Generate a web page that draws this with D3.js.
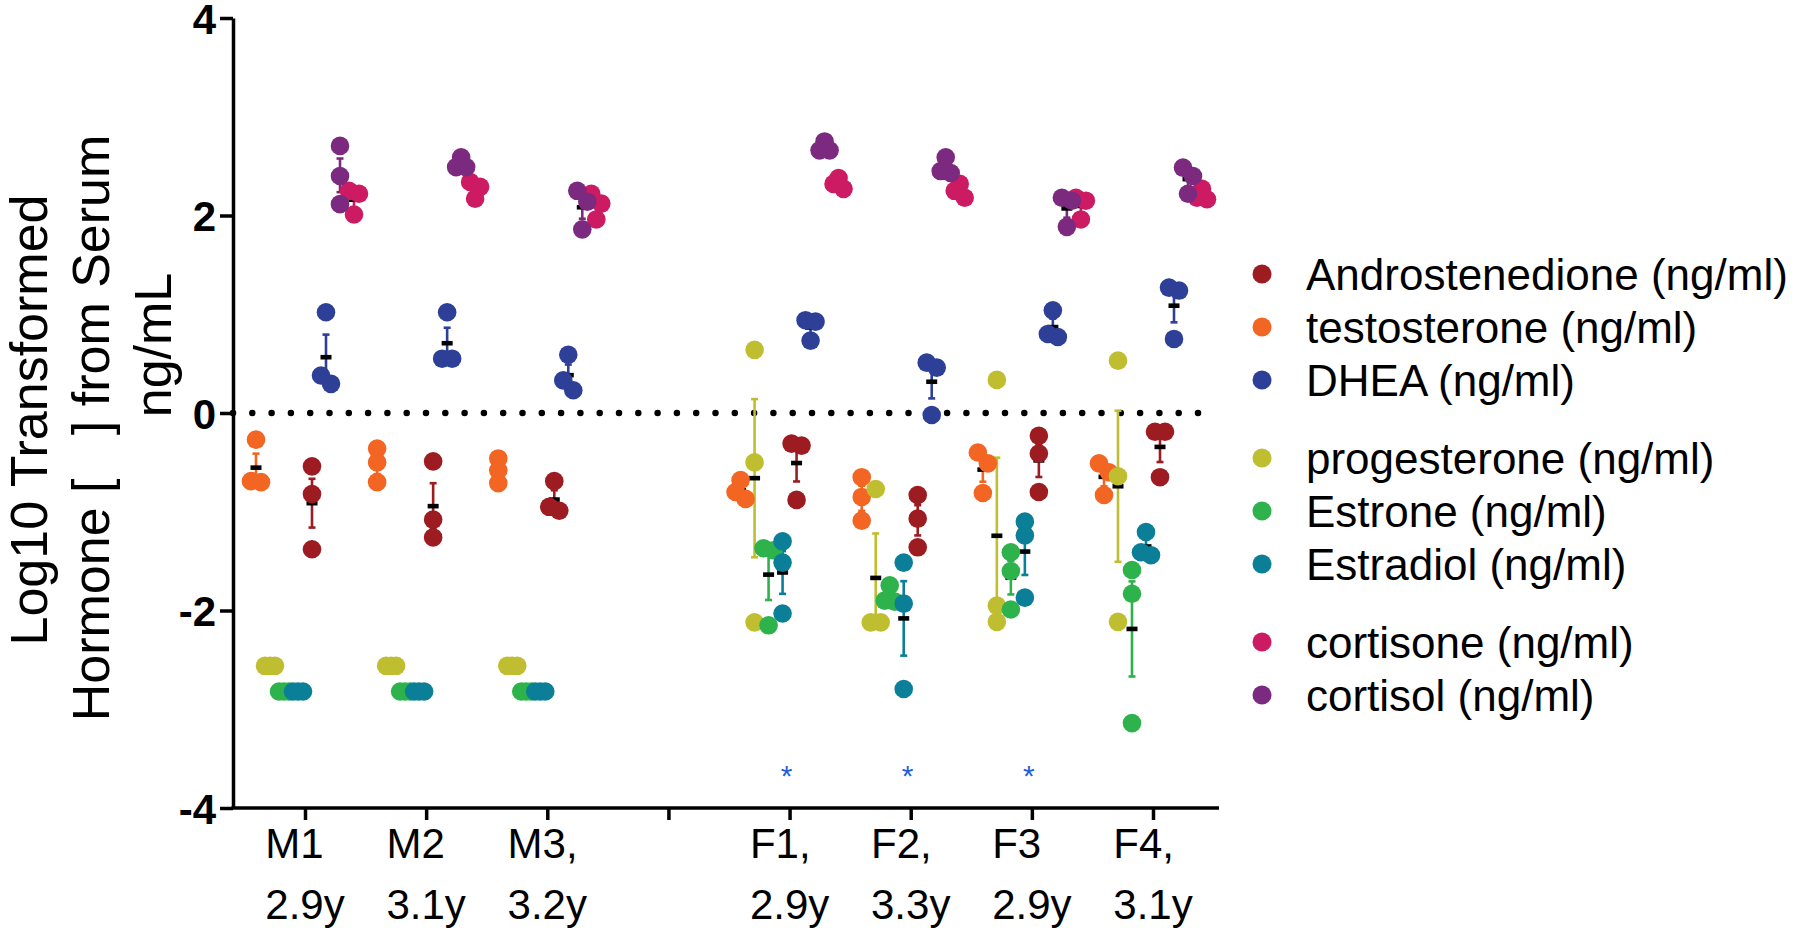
<!DOCTYPE html>
<html><head><meta charset="utf-8">
<script src="https://cdn.jsdelivr.net/npm/d3@7"></script>
<style>
body{margin:0;background:#fff}
svg{display:block}
text{font-family:Arial,"Liberation Sans",Helvetica,sans-serif}
</style>
</head><body>
<svg id="chart" width="1800" height="930"></svg>
<script>
// ---------- DATA ----------
const groupKeys = ["M1","M2","M3","gap","F1","F2","F3","F4"];
const groupLabels = [["M1","2.9y"],["M2","3.1y"],["M3,","3.2y"],[],["F1,","2.9y"],["F2,","3.3y"],["F3","2.9y"],["F4,","3.1y"]];
const subjects = ["M1","M2","M3","F1","F2","F3","F4"];
const yTicks = [4,2,0,-2,-4];
const significant = ["F1","F2","F3"];
const yTitle = ["Log10 Transformed","Hormone [\u00A0\u00A0\u00A0] from Serum","ng/mL"];

// x-order of columns inside each subject group
const hormoneColumns = ["testosterone","progesterone","estrone","estradiol","androstenedione","dhea","cortisol","cortisone"];
// legend / drawing order
const legendGroups = [["androstenedione","testosterone","dhea"],["progesterone","estrone","estradiol"],["cortisone","cortisol"]];
const hormoneNames = {
  androstenedione:"Androstenedione (ng/ml)", testosterone:"testosterone (ng/ml)", dhea:"DHEA (ng/ml)",
  progesterone:"progesterone (ng/ml)", estrone:"Estrone (ng/ml)", estradiol:"Estradiol (ng/ml)",
  cortisone:"cortisone (ng/ml)", cortisol:"cortisol (ng/ml)"
};
const hormoneColors = {
  androstenedione:"#9c1c22", testosterone:"#f26522", dhea:"#2e3f98",
  progesterone:"#bfbe30", estrone:"#2eb24b", estradiol:"#0b7f97",
  cortisone:"#cc1b63", cortisol:"#7b2a7f"
};

// log10 values, per subject (M1,M2,M3,F1,F2,F3,F4), three replicates each
const androstenedione = [[-0.54,-0.82,-1.38],[-0.49,-1.08,-1.26],[-0.69,-0.95,-0.99],[-0.31,-0.33,-0.88],[-0.83,-1.07,-1.36],[-0.23,-0.41,-0.80],[-0.19,-0.19,-0.65]];
const testosterone = [[-0.27,-0.69,-0.70],[-0.36,-0.50,-0.70],[-0.46,-0.58,-0.71],[-0.68,-0.80,-0.87],[-0.65,-0.85,-1.09],[-0.40,-0.51,-0.81],[-0.51,-0.60,-0.83]];
const dhea = [[1.02,0.38,0.295],[1.02,0.55,0.55],[0.59,0.33,0.23],[0.94,0.925,0.733],[0.51,0.46,-0.02],[1.04,0.80,0.77],[1.27,1.24,0.75]];
const progesterone = [[-2.56,-2.56,-2.56],[-2.56,-2.56,-2.56],[-2.56,-2.56,-2.56],[0.64,-0.50,-2.12],[-0.77,-2.12,-2.12],[0.335,-1.95,-2.115],[0.53,-0.64,-2.115]];
const estrone = [[-2.82,-2.82,-2.82],[-2.82,-2.82,-2.82],[-2.82,-2.82,-2.82],[-1.37,-1.39,-2.15],[-1.745,-1.90,-1.91],[-1.41,-1.60,-1.99],[-1.59,-1.83,-3.14]];
const estradiol = [[-2.82,-2.82,-2.82],[-2.82,-2.82,-2.82],[-2.82,-2.82,-2.82],[-1.30,-1.515,-2.03],[-1.515,-1.93,-2.795],[-1.10,-1.24,-1.87],[-1.205,-1.41,-1.44]];
const cortisone = [[2.25,2.22,2.01],[2.34,2.29,2.17],[2.22,2.12,1.96],[2.38,2.32,2.27],[2.32,2.25,2.18],[2.18,2.15,1.96],[2.27,2.18,2.165]];
const cortisol = [[2.705,2.40,2.115],[2.59,2.49,2.49],[2.25,2.14,1.86],[2.75,2.66,2.66],[2.59,2.45,2.43],[2.18,2.15,1.885],[2.485,2.40,2.22]];

const hormoneData = {androstenedione, testosterone, dhea, progesterone, estrone, estradiol, cortisone, cortisol};

// ---------- LAYOUT ----------
const FONT = 'Arial, "Liberation Sans", Helvetica, sans-serif';
const svg = d3.select("#chart");
const y = d3.scaleLinear().domain([-4,4]).range([808,18]);
const x = d3.scalePoint().domain(groupKeys).range([305,1153]);
const sub = d3.scaleBand().domain(hormoneColumns).range([-56,56]);
const axisLeftX = 233, axisRightX = 1219;
const R = 9.3;

// zero dotted line
svg.append("line")
  .attr("x1",axisLeftX).attr("x2",1199)
  .attr("y1",y(0)).attr("y2",y(0))
  .attr("stroke","#000").attr("stroke-width",6.5)
  .attr("stroke-linecap","round").attr("stroke-dasharray","0 19.3");

// y axis
const gy = svg.append("g").attr("transform",`translate(${axisLeftX},0)`)
  .call(d3.axisLeft(y).tickValues(yTicks).tickSize(13).tickSizeOuter(0).tickFormat(d=>String(d)));
gy.attr("font-family",FONT).attr("font-size",42);
gy.select(".domain").attr("stroke","#000").attr("stroke-width",3.5);
gy.selectAll(".tick line").attr("stroke","#000").attr("stroke-width",3.5);
gy.selectAll(".tick text").attr("fill","#000").attr("font-weight","bold").attr("x",-17).attr("dy","0.36em");

// x axis
const gx = svg.append("g").attr("transform",`translate(0,${y(-4)})`)
  .call(d3.axisBottom(x).tickSize(12).tickSizeOuter(0).tickFormat(""));
gx.select(".domain").remove();
gx.selectAll(".tick line").attr("stroke","#000").attr("stroke-width",3.5);
gx.append("line").attr("x1",axisLeftX-1.5).attr("x2",axisRightX).attr("y1",0).attr("y2",0)
  .attr("stroke","#000").attr("stroke-width",3.5);

// x tick labels (two lines, left aligned, block centred on tick)
groupKeys.forEach((k,i)=>{
  const lines = groupLabels[i];
  if(!lines.length) return;
  const g = svg.append("g");
  const texts = lines.map((t,j)=> g.append("text").text(t)
      .attr("font-size",42).attr("font-family",FONT).attr("fill","#000")
      .attr("y", 858 + j*61));
  const w = d3.max(texts, t=>t.node().getComputedTextLength());
  texts.forEach(t=>t.attr("x", x(k) - w/2));
});

// y title (three rotated lines)
const titleCenters = [420, 428, 345];
yTitle.forEach((t,j)=>{
  svg.append("text").text(t)
    .attr("transform",`translate(${47 + j*62},${titleCenters[j]}) rotate(-90)`)
    .attr("text-anchor","middle").attr("font-size",52).attr("font-family",FONT).attr("fill","#000");
});

// beeswarm-like horizontal offsets
const pxPerUnit = y(0)-y(1);
function swarm(vals){
  const idx = vals.map((v,i)=>i).sort((a,b)=>vals[b]-vals[a]);
  const clusters = [];
  idx.forEach((id,k)=>{
    if(k>0 && (vals[idx[k-1]]-vals[id])*pxPerUnit < 11) clusters[clusters.length-1].push(id);
    else clusters.push([id]);
  });
  const off = new Array(vals.length).fill(0);
  const patterns = {1:[0],2:[-5,5],3:[0,-5,5]};
  clusters.forEach(c=>{ const p = patterns[c.length]; c.forEach((id,j)=>off[id]=p[j]); });
  return off;
}

const drawOrder = legendGroups.flat();
const barsG = svg.append("g");
const ptsG = svg.append("g");

drawOrder.forEach(h=>{
  const col = hormoneColors[h];
  subjects.forEach((s,si)=>{
    const vals = hormoneData[h][si];
    const cx = x(s) + sub(h) + sub.bandwidth()/2;
    const m = d3.mean(vals);
    const sem = d3.deviation(vals)/Math.sqrt(vals.length);
    if(sem>0.005){
      barsG.append("line").attr("x1",cx).attr("x2",cx).attr("y1",y(m+sem)).attr("y2",y(m-sem))
        .attr("stroke",col).attr("stroke-width",2.6);
      [m+sem,m-sem].forEach(v=>barsG.append("line").attr("x1",cx-3.5).attr("x2",cx+3.5)
        .attr("y1",y(v)).attr("y2",y(v)).attr("stroke",col).attr("stroke-width",2.6));
    }
    barsG.append("rect").attr("x",cx-5.5).attr("y",y(m)-2.3).attr("width",11).attr("height",4.6).attr("fill","#000");
    const off = swarm(vals);
    vals.forEach((v,i)=>{
      ptsG.append("circle").attr("cx",cx+off[i]).attr("cy",y(v)).attr("r",R).attr("fill",col);
    });
  });
});

// significance asterisks
significant.forEach(s=>{
  svg.append("text").text("*").attr("x",x(s)-3).attr("y",786)
    .attr("text-anchor","middle").attr("font-size",30).attr("font-family",FONT).attr("fill","#1f5fd8");
});

// legend
let ly = 274;
legendGroups.forEach((grp,gi)=>{
  grp.forEach(h=>{
    svg.append("circle").attr("cx",1262).attr("cy",ly).attr("r",9.5).attr("fill",hormoneColors[h]);
    svg.append("text").text(hormoneNames[h]).attr("x",1306).attr("y",ly).attr("dy","0.36em")
      .attr("font-size",44).attr("font-family",FONT).attr("fill","#000");
    ly += 53;
  });
  ly += 25;
});
</script>
</body></html>
